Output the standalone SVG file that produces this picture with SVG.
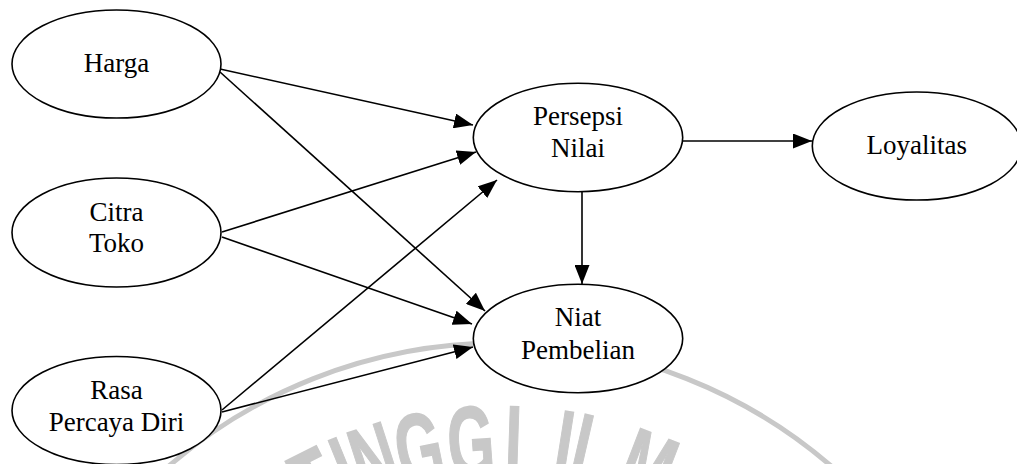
<svg xmlns="http://www.w3.org/2000/svg" width="1017" height="464" viewBox="0 0 1017 464">
  <style>
    .node ellipse { fill: #ffffff; stroke: #000000; stroke-width: 1.6; }
    .node text { font-family: "Liberation Serif", "Times New Roman", serif; font-size: 27px; fill: #000000; text-anchor: middle; }
    .edge { stroke: #000000; stroke-width: 1.6; fill: none; marker-end: url(#arrow); }
    .wm-ring { fill: none; stroke: #c8c8c8; stroke-width: 5; }
    .wm-letter { font-family: "Liberation Sans", Arial, sans-serif; font-weight: bold; font-size: 100px; fill: #c8c8c8; stroke: #c8c8c8; stroke-width: 1.5; text-anchor: middle; }
  </style>
  <defs>
    <marker id="arrow" markerUnits="userSpaceOnUse" markerWidth="19" markerHeight="15" refX="19" refY="7.5" orient="auto">
      <path d="M0,0 L19,7.5 L0,15 z" fill="#000000"/>
    </marker>
  </defs>

  <rect width="1017" height="464" fill="#ffffff"/>

  <!-- background seal: ring with curved lettering -->
  <g id="seal">
    <circle class="wm-ring" cx="500" cy="850" r="507"/>
    <text class="wm-letter" transform="rotate(-26.7 500 850) translate(500 475) scale(0.6 1)">T</text>
    <text class="wm-letter" transform="rotate(-22.2 500 850) translate(500 475) scale(0.6 1)">I</text>
    <text class="wm-letter" transform="rotate(-17.9 500 850) translate(500 475) scale(0.6 1)">N</text>
    <text class="wm-letter" transform="rotate(-11.4 500 850) translate(500 475) scale(0.6 1)">G</text>
    <text class="wm-letter" transform="rotate(-4.1 500 850) translate(500 475) scale(0.6 1)">G</text>
    <text class="wm-letter" transform="rotate(1.9 500 850) translate(500 475) scale(0.6 1)">I</text>
    <text class="wm-letter" transform="rotate(9.0 500 850) translate(500 475) scale(0.6 1)">I</text>
    <text class="wm-letter" transform="rotate(12.9 500 850) translate(500 475) scale(0.6 1)">L</text>
    <text class="wm-letter" transform="rotate(21.1 500 850) translate(500 475) scale(0.6 1)">M</text>
  </g>

  <!-- connectors -->
  <g id="edges">
    <line class="edge" x1="220" y1="69" x2="473" y2="125"/>
    <line class="edge" x1="220" y1="72" x2="485" y2="311"/>
    <line class="edge" x1="222" y1="232" x2="476" y2="152"/>
    <line class="edge" x1="222" y1="237" x2="472" y2="324"/>
    <line class="edge" x1="222" y1="410" x2="497" y2="180"/>
    <line class="edge" x1="222" y1="412" x2="473" y2="347"/>
    <line class="edge" x1="582" y1="192" x2="582" y2="284"/>
    <line class="edge" x1="683" y1="141" x2="812" y2="141"/>
  </g>

  <!-- nodes -->
  <g id="harga" class="node">
    <ellipse cx="116.5" cy="64" rx="104.5" ry="54"/>
    <text x="116.5" y="72">Harga</text>
  </g>
  <g id="citra-toko" class="node">
    <ellipse cx="116.5" cy="232.5" rx="104.5" ry="54.5"/>
    <text x="116.5" y="221">Citra</text>
    <text x="116.5" y="252">Toko</text>
  </g>
  <g id="rasa-percaya-diri" class="node">
    <ellipse cx="116.5" cy="410.5" rx="104.5" ry="54"/>
    <text x="116.5" y="399">Rasa</text>
    <text x="116.5" y="431">Percaya Diri</text>
  </g>
  <g id="persepsi-nilai" class="node">
    <ellipse cx="578" cy="137.5" rx="104.7" ry="54.2"/>
    <text x="578" y="124.5">Persepsi</text>
    <text x="578" y="157">Nilai</text>
  </g>
  <g id="niat-pembelian" class="node">
    <ellipse cx="578" cy="338.5" rx="104.7" ry="54.2"/>
    <text x="578" y="326">Niat</text>
    <text x="578" y="358.5">Pembelian</text>
  </g>
  <g id="loyalitas" class="node">
    <ellipse cx="916.8" cy="146" rx="104.5" ry="54"/>
    <text x="916.8" y="153.5">Loyalitas</text>
  </g>
</svg>
